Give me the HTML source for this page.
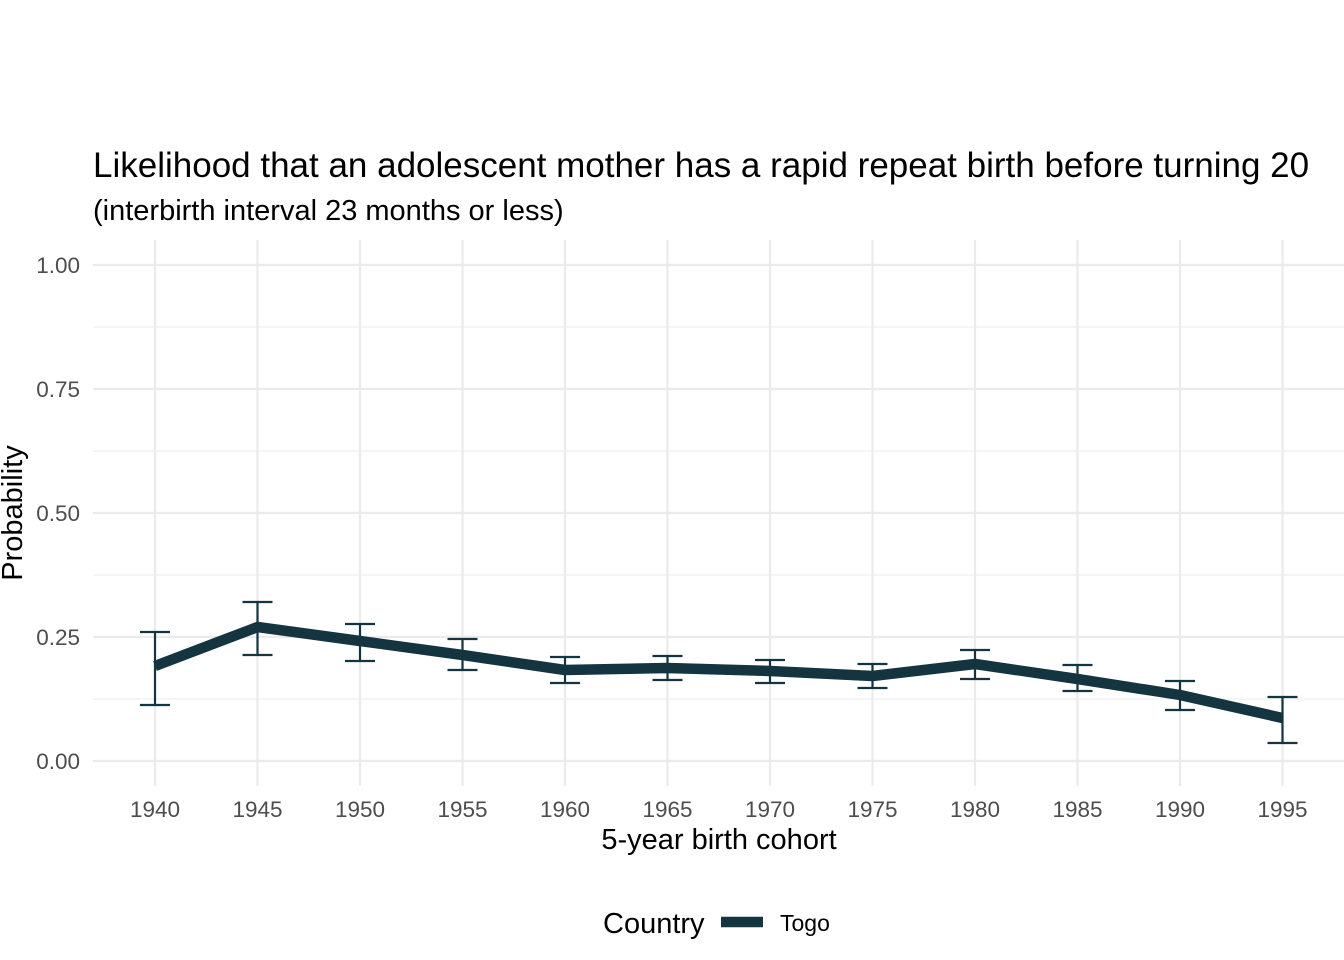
<!DOCTYPE html>
<html><head><meta charset="utf-8"><style>
html,body{margin:0;padding:0;background:#fff;}
svg{display:block;font-family:"Liberation Sans",Arial,sans-serif;}
</style></head><body>
<svg width="1344" height="960" viewBox="0 0 1344 960" xmlns="http://www.w3.org/2000/svg">
<rect width="1344" height="960" fill="#fff"/>
<g stroke="#ebebeb" stroke-width="1.1">
<line x1="93" x2="1344" y1="327" y2="327"/><line x1="93" x2="1344" y1="451" y2="451"/>
<line x1="93" x2="1344" y1="575" y2="575"/><line x1="93" x2="1344" y1="699" y2="699"/>
</g>
<g stroke="#ebebeb" stroke-width="2.2">
<line x1="93" x2="1344" y1="265" y2="265"/><line x1="93" x2="1344" y1="389" y2="389"/>
<line x1="93" x2="1344" y1="513" y2="513"/><line x1="93" x2="1344" y1="637" y2="637"/>
<line x1="93" x2="1344" y1="761" y2="761"/>
<line x1="155" x2="155" y1="240" y2="786"/><line x1="257.5" x2="257.5" y1="240" y2="786"/>
<line x1="360" x2="360" y1="240" y2="786"/><line x1="462.5" x2="462.5" y1="240" y2="786"/>
<line x1="565" x2="565" y1="240" y2="786"/><line x1="667.5" x2="667.5" y1="240" y2="786"/>
<line x1="770" x2="770" y1="240" y2="786"/><line x1="872.5" x2="872.5" y1="240" y2="786"/>
<line x1="975" x2="975" y1="240" y2="786"/><line x1="1077.5" x2="1077.5" y1="240" y2="786"/>
<line x1="1180" x2="1180" y1="240" y2="786"/><line x1="1282.5" x2="1282.5" y1="240" y2="786"/>
</g>
<g stroke="#143540" stroke-width="2.2" fill="none">
<path d="M155 632V705M140 632H170M140 705H170"/>
<path d="M257.5 602V655M242.5 602H272.5M242.5 655H272.5"/>
<path d="M360 624V661M345 624H375M345 661H375"/>
<path d="M462.5 639V670M447.5 639H477.5M447.5 670H477.5"/>
<path d="M565 657V683M550 657H580M550 683H580"/>
<path d="M667.5 656V680M652.5 656H682.5M652.5 680H682.5"/>
<path d="M770 660V683M755 660H785M755 683H785"/>
<path d="M872.5 664V688M857.5 664H887.5M857.5 688H887.5"/>
<path d="M975 650V679M960 650H990M960 679H990"/>
<path d="M1077.5 665V691M1062.5 665H1092.5M1062.5 691H1092.5"/>
<path d="M1180 681V710M1165 681H1195M1165 710H1195"/>
<path d="M1282.5 697V743M1267.5 697H1297.5M1267.5 743H1297.5"/>
</g>
<polyline fill="none" stroke="#143540" stroke-width="10.5" stroke-linejoin="round" points="155,666 257.5,627 360,641 462.5,655 565,670 667.5,668 770,671 872.5,676 975,664 1077.5,679 1180,695 1282.5,718"/>
<g fill="#4d4d4d" font-size="22.5" text-anchor="end">
<text x="80" y="273">1.00</text><text x="80" y="397">0.75</text><text x="80" y="521">0.50</text>
<text x="80" y="645">0.25</text><text x="80" y="769">0.00</text>
</g>
<g fill="#4d4d4d" font-size="22.5" text-anchor="middle">
<text x="155" y="817">1940</text><text x="257.5" y="817">1945</text><text x="360" y="817">1950</text>
<text x="462.5" y="817">1955</text><text x="565" y="817">1960</text><text x="667.5" y="817">1965</text>
<text x="770" y="817">1970</text><text x="872.5" y="817">1975</text><text x="975" y="817">1980</text>
<text x="1077.5" y="817">1985</text><text x="1180" y="817">1990</text><text x="1282.5" y="817">1995</text>
</g>
<text x="719" y="849" font-size="29" text-anchor="middle" fill="#000">5-year birth cohort</text>
<text transform="translate(22,513) rotate(-90)" font-size="29" text-anchor="middle" fill="#000">Probability</text>
<text x="93" y="177" font-size="35" fill="#000">Likelihood that an adolescent mother has a rapid repeat birth before turning 20</text>
<text x="93" y="220" font-size="29" fill="#000">(interbirth interval 23 months or less)</text>
<text x="603" y="933" font-size="29" fill="#000">Country</text>
<line x1="721" x2="763" y1="922" y2="922" stroke="#143540" stroke-width="10.5"/>
<text x="780" y="931" font-size="23" fill="#000">Togo</text>
</svg>
</body></html>
